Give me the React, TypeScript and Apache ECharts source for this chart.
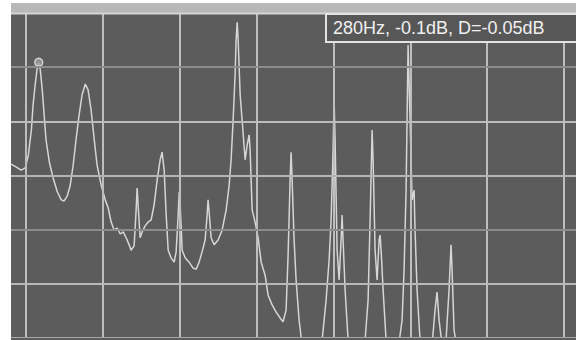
import React, { useEffect, useRef } from "react";
import * as echarts from "echarts";

// Spectrum trace: frequency (Hz) and level (dB), point by point
const freqHz = [
  218, 228, 239, 248, 255, 262, 266, 271, 276, 280, 284, 289, 294, 299, 308, 319, 331, 343, 352, 362,
  372, 382, 392, 403, 414, 426, 437, 449, 462, 474, 492, 510, 524, 538, 553, 568, 584, 600, 616, 633,
  644, 662, 674, 680, 686, 699, 712, 731, 751, 772, 793, 815, 837, 852, 868, 884, 900, 924, 950, 967,
  985, 994, 1003, 1021, 1049, 1087, 1127, 1158, 1190, 1222, 1256, 1279, 1290, 1302, 1326, 1362, 1412, 1464, 1518, 1560,
  1588, 1617, 1646, 1661, 1677, 1692, 1723, 1754, 1802, 1835, 1868, 1885, 1920, 1972, 2026, 2082, 2158, 2217, 2299, 2383,
  2470, 2538, 2608, 2655, 2704, 2728, 2753, 2803, 2854, 2932, 3013,
  3239, 3481, 3609, 3741, 3844, 3914, 3984, 4020, 4057, 4131, 4206, 4283, 4321, 4360, 4440, 4562, 4729, 5084, 5318,
  5464, 5564, 5665, 5716, 5820, 5926, 6034, 6089, 6144, 6256, 6427, 6663, 7162, 7424, 7560, 7698, 7838, 7979, 8125, 8273,
  8347, 8499, 8732, 9135, 9730, 9997, 10178, 10364, 10649, 11039, 11342, 11549, 11654, 11866, 12191, 13712, 35650,
];
const levelDb = [
  -18.9, -19.4, -20.0, -19.6, -17.2, -12.6, -8.0, -4.3, -1.2, -0.1, -1.5, -5.2, -9.8, -14.4, -18.5, -21.5, -24.0, -25.5, -25.7, -24.8,
  -22.8, -19.1, -14.4, -9.8, -6.1, -4.1, -5.2, -8.9, -14.4, -19.1, -22.8, -25.5, -27.0, -29.6, -31.1, -30.7, -31.8, -31.4, -32.5, -33.8,
  -34.8, -34.0, -27.4, -23.3, -26.4, -32.5, -31.4, -30.3, -29.6, -29.2, -26.4, -21.8, -18.1, -16.7, -20.0, -28.3, -34.8, -36.2, -37.0, -35.1,
  -28.3, -24.0, -26.4, -34.8, -36.2, -37.0, -38.1, -38.3, -37.0, -35.1, -32.9, -28.3, -25.5, -27.7, -32.5, -33.8, -32.9, -31.1, -27.4, -22.8,
  -18.1, -10.8, -2.4, 4.0, 7.3, 4.0, -6.1, -10.8, -18.1, -15.4, -13.5, -16.3, -27.4, -29.6, -32.5, -37.0, -39.4, -43.1, -44.9, -46.2,
  -47.3, -48.0, -45.8, -35.7, -21.8, -16.7, -21.8, -32.9, -40.3, -47.7, -52.3,
  -54.1, -53.2, -51.4, -44.0, -36.6, -29.2, -16.3, -7.1, -14.4, -34.8, -40.3, -32.9, -28.3, -32.9, -42.1, -51.4, -54.1, -54.1, -51.4,
  -44.0, -29.2, -12.6, -18.1, -34.8, -40.3, -32.9, -32.0, -34.8, -42.1, -51.4, -54.1, -53.2, -47.7, -38.4, -23.7, 3.1, -10.8, -25.5, -23.7,
  -31.1, -42.1, -51.4, -54.1, -52.3, -45.8, -42.5, -47.7, -52.3, -51.4, -42.1, -33.8, -38.4, -49.5, -53.2, -55.1, -55.1,
];

// Octave grid and level grid
const gridFreqs = [250, 500, 1000, 2000, 4000, 8000, 16000, 32000];
const gridLevels = [-1, -11, -21, -31, -41, -51];
const gridLevelColors = ["#8c8c8c", "#bdbdbd", "#b4b4b4", "#8c8c8c", "#b8b8b8", "#a8a8a8"];

// Cursor readout
const markerFreq = 280;
const markerDb = -0.1;
const markerDelta = -0.05;

const REF_HZ = 250;
const VIEW_MIN_HZ = 218;
const VIEW_MAX_HZ = 35650;
const DB_MIN = -51;
const DB_MAX = 9;

const octaves = (f: number) => Math.log2(f / REF_HZ);

export default function App() {
  const ref = useRef<HTMLDivElement>(null);

  useEffect(() => {
    if (!ref.current) return;
    const chart = echarts.init(ref.current, undefined, { renderer: "svg" });

    const trace = freqHz.map((f, i) => [octaves(f), levelDb[i]]);
    const readout = `${markerFreq}Hz, ${markerDb.toFixed(1)}dB, D=${markerDelta.toFixed(2)}dB`;

    chart.setOption({
      animation: false,
      backgroundColor: "#ffffff",
      grid: {
        left: 11,
        right: 0,
        top: 13,
        bottom: 2,
        show: true,
        backgroundColor: "#5c5c5c",
        borderWidth: 0,
      },
      xAxis: {
        type: "value",
        min: octaves(VIEW_MIN_HZ),
        max: octaves(VIEW_MAX_HZ),
        show: false,
        splitLine: { show: false },
      },
      yAxis: {
        type: "value",
        min: DB_MIN,
        max: DB_MAX,
        show: false,
        splitLine: { show: false },
      },
      series: [
        {
          type: "line",
          data: [],
          z: 1,
          silent: true,
          markLine: {
            silent: true,
            symbol: ["none", "none"],
            label: { show: false },
            lineStyle: { type: "solid", width: 2, color: "#bebebe" },
            data: [
              ...gridFreqs.map((f) => ({ xAxis: octaves(f) })),
              ...gridLevels.map((v, i) => ({
                yAxis: v,
                lineStyle: { type: "solid", width: 2, color: gridLevelColors[i] },
              })),
            ],
          },
        },
        {
          type: "line",
          data: trace,
          z: 3,
          symbol: "none",
          smooth: false,
          lineStyle: { color: "#d6d6d6", width: 1.5 },
        },
        {
          type: "scatter",
          z: 4,
          data: [[octaves(markerFreq), markerDb]],
          symbol: "circle",
          symbolSize: 8,
          itemStyle: { color: "#9c9c9c", borderColor: "#e8e8e8", borderWidth: 1.5 },
        },
      ],
      graphic: [
        {
          type: "rect",
          z: 10,
          shape: { x: 11, y: 3, width: 565, height: 10 },
          style: { fill: "#b8b8b8" },
        },
        {
          type: "line",
          z: 11,
          shape: { x1: 11, y1: 13.5, x2: 576, y2: 13.5 },
          style: { stroke: "#d4d4d4", lineWidth: 2 },
        },
        {
          type: "rect",
          z: 10,
          shape: { x: 11, y: 338, width: 565, height: 2 },
          style: { fill: "#5c5c5c" },
        },
        {
          type: "group",
          z: 20,
          children: [
            {
              type: "rect",
              z: 20,
              shape: { x: 326, y: 14, width: 252, height: 28 },
              style: { fill: "#575757", stroke: "#e4e4e4", lineWidth: 2 },
            },
            {
              type: "text",
              z: 21,
              x: 333,
              y: 28,
              style: {
                text: readout,
                fill: "#f0f0f0",
                font: '18px "Liberation Sans", Arial, sans-serif',
                verticalAlign: "middle",
                align: "left",
              },
            },
          ],
        },
      ],
    });

    return () => chart.dispose();
  }, []);

  return (
    <div
      style={{ position: "fixed", left: 0, top: 0, width: 576, height: 340, background: "#ffffff" }}
    >
      <div ref={ref} style={{ width: 576, height: 340 }} />
    </div>
  );
}
